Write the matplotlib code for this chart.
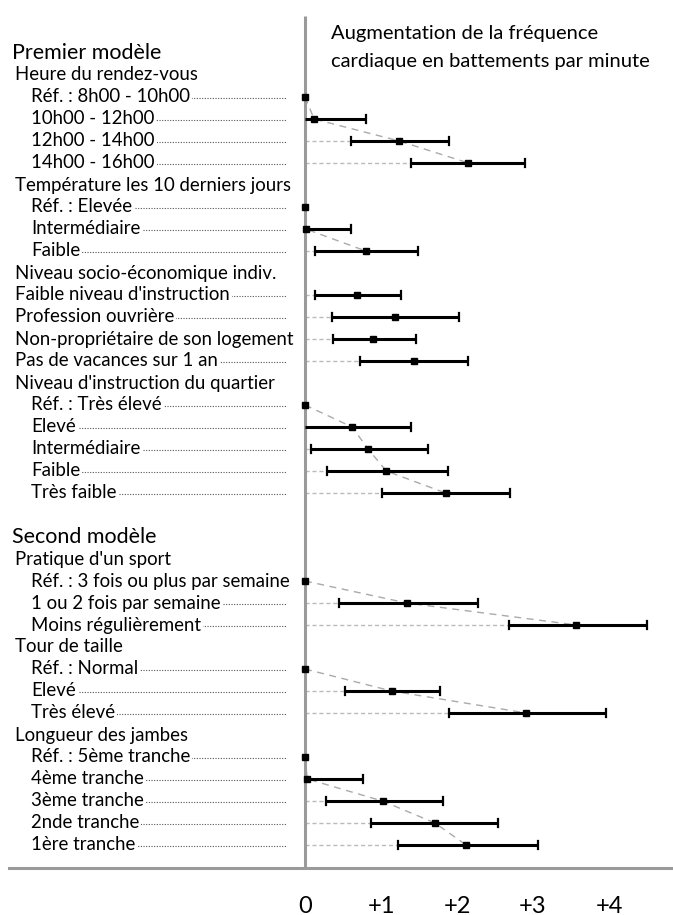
import matplotlib
matplotlib.use("Agg")
import matplotlib.pyplot as plt
import numpy as np

plt.rcParams['font.family'] = ['Lato', 'DejaVu Sans']

# ---- data (bpm increase, estimate + 95% CI) ----
heure_labels = ["Réf. : 8h00 - 10h00", "10h00 - 12h00", "12h00 - 14h00", "14h00 - 16h00"]
heure_est = [0, 0.12, 1.24, 2.15]
heure_lo = [np.nan, -0.56, 0.61, 1.39]
heure_hi = [np.nan, 0.80, 1.89, 2.90]

temp_labels = ["Réf. : Elevée", "Intermédiaire", "Faible"]
temp_est = [0, 0.01, 0.80]
temp_lo = [np.nan, -0.59, 0.13]
temp_hi = [np.nan, 0.61, 1.49]

socio_labels = ["Faible niveau d'instruction", "Profession ouvrière",
                "Non-propriétaire de son logement", "Pas de vacances sur 1 an"]
socio_est = [0.68, 1.18, 0.90, 1.43]
socio_lo = [0.13, 0.36, 0.37, 0.73]
socio_hi = [1.26, 2.02, 1.46, 2.14]

quart_labels = ["Réf. : Très élevé", "Elevé", "Intermédiaire", "Faible", "Très faible"]
quart_est = [0, 0.62, 0.83, 1.07, 1.85]
quart_lo = [np.nan, -0.16, 0.075, 0.29, 1.01]
quart_hi = [np.nan, 1.40, 1.62, 1.88, 2.70]

sport_labels = ["Réf. : 3 fois ou plus par semaine", "1 ou 2 fois par semaine", "Moins régulièrement"]
sport_est = [0, 1.34, 3.57]
sport_lo = [np.nan, 0.45, 2.68]
sport_hi = [np.nan, 2.28, 4.50]

taille_labels = ["Réf. : Normal", "Elevé", "Très élevé"]
taille_est = [0, 1.14, 2.91]
taille_lo = [np.nan, 0.53, 1.89]
taille_hi = [np.nan, 1.78, 3.96]

jambes_labels = ["Réf. : 5ème tranche", "4ème tranche", "3ème tranche", "2nde tranche", "1ère tranche"]
jambes_est = [0, 0.03, 1.02, 1.71, 2.12]
jambes_lo = [np.nan, -0.70, 0.28, 0.87, 1.22]
jambes_hi = [np.nan, 0.76, 1.81, 2.54, 3.07]

xticks = [0, 1, 2, 3, 4]
xticklabels = ["0", "+1", "+2", "+3", "+4"]

models = [
    ("Premier modèle", [
        ("Heure du rendez-vous", heure_labels, heure_est, heure_lo, heure_hi, True),
        ("Température les 10 derniers jours", temp_labels, temp_est, temp_lo, temp_hi, True),
        ("Niveau socio-économique indiv.", socio_labels, socio_est, socio_lo, socio_hi, False),
        ("Niveau d'instruction du quartier", quart_labels, quart_est, quart_lo, quart_hi, True),
    ]),
    ("Second modèle", [
        ("Pratique d'un sport", sport_labels, sport_est, sport_lo, sport_hi, True),
        ("Tour de taille", taille_labels, taille_est, taille_lo, taille_hi, True),
        ("Longueur des jambes", jambes_labels, jambes_est, jambes_lo, jambes_hi, True),
    ]),
]

# ---- layout (pixels) ----
W, H = 673, 915
AX0 = 305.0       # pixel of x = 0
PPU = 76.0        # pixels per unit
BOTTOM = 868.0    # pixel of bottom line
LEFT = 9.0


def px(p):
    return (p - AX0) / PPU


fig = plt.figure(figsize=(W / 100, H / 100), dpi=100)
ax = fig.add_axes([LEFT / W, (H - BOTTOM) / H, 1 - LEFT / W, BOTTOM / H])
ax.set_xlim(px(LEFT), px(W))
ax.set_ylim(BOTTOM, 0)
for s in ['top', 'left', 'right']:
    ax.spines[s].set_visible(False)
ax.spines['bottom'].set_color('#9a9a9a')
ax.spines['bottom'].set_linewidth(2.2)
ax.set_yticks([])
ax.set_xticks(xticks)
ax.set_xticklabels(xticklabels, fontsize=17)
ax.tick_params(axis='x', length=0, pad=20)

gray = '#9a9a9a'
ax.plot([0, 0], [16, BOTTOM], color=gray, lw=2.2, zorder=5, solid_capstyle='butt')

LINE0 = 97.0
STEP = 22.0
k = -2
LEADER_END = px(287)
FS = 13.4

for title, groups in models:
    ax.text(px(12), LINE0 + STEP * k, title, fontsize=15.5, va='center', ha='left')
    k += 1
    for header, labels, est, lo, hi, ordinal in groups:
        ax.text(px(15), LINE0 + STEP * k, header, fontsize=FS, va='center', ha='left')
        k += 1
        ys = []
        indent = px(31) if ordinal else px(15)
        for i, lab in enumerate(labels):
            y = LINE0 + STEP * k
            ys.append(y)
            ax.text(indent, y, lab, fontsize=FS, va='center', ha='left', zorder=3,
                    bbox=dict(facecolor='white', edgecolor='none', pad=1.5))
            ax.plot([indent, LEADER_END], [y + 1, y + 1], color='#555555', lw=0.8,
                    linestyle=(0, (1, 1.4)), zorder=2)
            if est[i] > 0:
                ax.plot([0, est[i]], [y, y], color='#bbbbbb', lw=1.0,
                        linestyle=(0, (3, 2)), zorder=2)
            if not np.isnan(lo[i]):
                a = max(lo[i], 0)
                ax.plot([a, hi[i]], [y, y], color='black', lw=2.2, zorder=6,
                        solid_capstyle='butt')
                caps = [hi[i]] if lo[i] < 0 else [lo[i], hi[i]]
                for c in caps:
                    ax.plot([c, c], [y - 4, y + 4], color='black', lw=1.6, zorder=6)
            k += 1
        if ordinal:
            ax.plot(est, ys, color='#aaaaaa', lw=1.0, linestyle=(0, (5, 4)), zorder=4)
        ax.plot(est, ys, linestyle='none', marker='s', ms=4.5, color='black', zorder=7)
    k += 1

ax.text(px(331), 33, "Augmentation de la fréquence", fontsize=14.5, va='center', ha='left')
ax.text(px(331), 62, "cardiaque en battements par minute", fontsize=14.5, va='center', ha='left')

fig.savefig("out.png", dpi=100)
